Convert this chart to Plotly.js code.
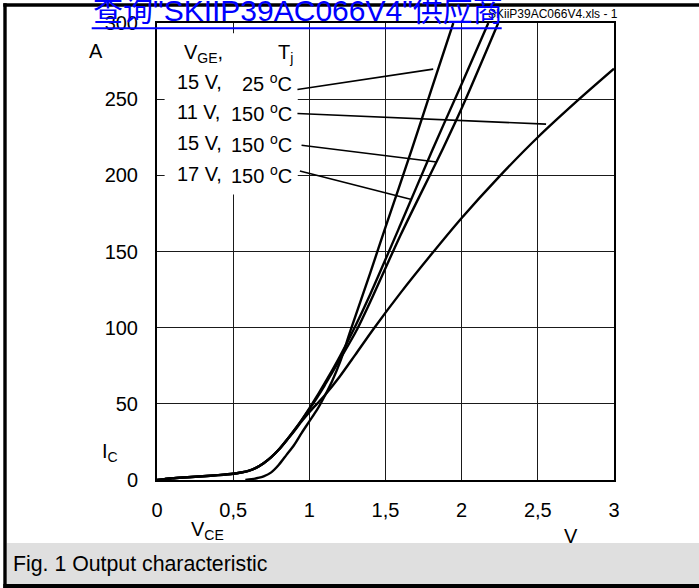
<!DOCTYPE html>
<html>
<head>
<meta charset="utf-8">
<script src="https://cdn.plot.ly/plotly-3.0.1.min.js"></script>
<style>
html,body{margin:0;padding:0;background:#fff;}
#chart{width:699px;height:588px;}
</style>
</head>
<body>
<div id="chart"></div>
<script>
// ---- data (V_CE in V, I_C in A) ----
const xTickVals = [0, 0.5, 1, 1.5, 2, 2.5, 3];
const xTickText = ['0', '0,5', '1', '1,5', '2', '2,5', '3'];
const yTickVals = [0, 50, 100, 150, 200, 250, 300];
const yTickText = ['0', '50', '100', '150', '200', '250', '300'];

// 15 V, 25 °C
const vce_15V_25C = [0.58, 0.62, 0.66, 0.7, 0.75, 0.8, 0.85, 0.9, 0.95, 1.0, 1.05, 1.1, 1.15, 1.2, 1.27, 1.4, 1.5, 1.671, 1.8, 1.945];
const ic_15V_25C  = [0, 0.5, 1.3, 2.4, 5, 10, 16.5, 23, 31, 38.5, 46, 55, 65, 77, 98, 136, 166, 216.5, 256, 300];

// 17 V, 150 °C
const vce_17V_150C = [0, 0.05, 0.1, 0.2, 0.3, 0.4, 0.5, 0.55, 0.6, 0.65, 0.7, 0.75, 0.8, 0.85, 0.9, 0.95, 1.0, 1.05, 1.1, 1.15, 1.2, 1.292, 1.4, 1.6, 1.807, 2.0, 2.175];
const ic_17V_150C  = [0, 0.6, 1.1, 1.8, 2.5, 3.2, 4.1, 4.9, 6, 8, 11, 15, 20, 26, 32.5, 39.5, 47, 55, 63.5, 72, 81, 99, 122, 168, 216.5, 260, 300];

// 15 V, 150 °C
const vce_15V_150C = [0, 0.05, 0.1, 0.2, 0.3, 0.4, 0.5, 0.55, 0.6, 0.65, 0.7, 0.75, 0.8, 0.85, 0.9, 0.95, 1.0, 1.05, 1.1, 1.15, 1.2, 1.314, 1.4, 1.6, 1.879, 2.0, 2.24];
const ic_15V_150C  = [0, 0.6, 1.1, 1.8, 2.5, 3.2, 4.1, 4.9, 6, 8, 11, 15, 20, 26, 32.5, 39.3, 46.5, 54, 62, 70.5, 79, 99, 117, 161, 218, 244, 300];

// 11 V, 150 °C
const vce_11V_150C = [0, 0.05, 0.1, 0.2, 0.3, 0.4, 0.5, 0.55, 0.6, 0.65, 0.7, 0.75, 0.8, 0.85, 0.9, 0.95, 1.0, 1.05, 1.1, 1.2, 1.3, 1.42, 1.6, 1.8, 2.0, 2.245, 2.5, 2.76, 3.0];
const ic_11V_150C  = [0, 0.6, 1.1, 1.8, 2.5, 3.2, 4.1, 4.9, 6, 8, 11, 15, 20, 26, 32, 38.5, 44.5, 50, 55.5, 68, 82, 99, 123, 148, 172, 199, 225, 249, 270];

// legend rows and leader-line targets (label side, curve side) in data units
const legendLeft  = ['15 V,', '11 V,', '15 V,', '17 V,'];
const legendRight = ['25 <sup>o</sup>C', '150 <sup>o</sup>C', '150 <sup>o</sup>C', '150 <sup>o</sup>C'];
const leaderFrom = [[0.922, 256.4], [0.922, 240.6], [0.949, 219.8], [0.938, 202.9]];
const leaderTo   = [[1.813, 269.7], [2.554, 233.6], [1.836, 208.8], [1.671, 184.1]];

// ---- layout helpers (pixel -> paper) ----
const L = 157, T = 23, W = 457, H = 457;
const PX = p => (p - L) / W;
const PY = p => (T + H - p) / H;
const FONT = 'Liberation Sans, Arial, Helvetica, sans-serif';

function curve(x, y) {
  return {x: x, y: y, type: 'scatter', mode: 'lines',
          line: {color: '#000', width: 2.4, shape: 'spline', smoothing: 0.8},
          hoverinfo: 'skip', showlegend: false};
}

const traces = [
  curve(vce_15V_25C, ic_15V_25C),
  curve(vce_17V_150C, ic_17V_150C),
  curve(vce_15V_150C, ic_15V_150C),
  curve(vce_11V_150C, ic_11V_150C)
];

const shapes = [];
// white box behind legend text (hides grid)
shapes.push({type: 'rect', xref: 'x', yref: 'y', x0: 0.05, x1: 0.924, y0: 187.5, y1: 293.2,
             fillcolor: '#fff', line: {width: 0}, layer: 'above'});
// leader lines
for (let i = 0; i < leaderFrom.length; i++) {
  shapes.push({type: 'line', xref: 'x', yref: 'y',
               x0: leaderFrom[i][0], y0: leaderFrom[i][1], x1: leaderTo[i][0], y1: leaderTo[i][1],
               line: {color: '#000', width: 1.6}, layer: 'above'});
}
// frame and caption band
function prect(x0, y0, x1, y1, color) {
  shapes.push({type: 'rect', xref: 'paper', yref: 'paper',
               x0: PX(x0), x1: PX(x1), y0: PY(y1), y1: PY(y0),
               fillcolor: color, line: {width: 0}, layer: 'above'});
}
prect(6.7, 543, 699, 584, '#dfdfdf');
prect(3.3, 3.3, 699, 6.7, '#000');
prect(3.3, 3.3, 6.7, 588, '#000');
prect(3.3, 584, 699, 588, '#000');
// blue underline of the link text
shapes.push({type: 'line', xref: 'paper', yref: 'paper',
             x0: PX(91.7), x1: PX(501.7), y0: PY(28.3), y1: PY(28.3),
             line: {color: '#0000ff', width: 2}, layer: 'above'});

const annotations = [];
function ann(text, px, py, xanchor, size, color, family) {
  annotations.push({text: text, xref: 'paper', yref: 'paper', x: PX(px), y: PY(py),
                    xanchor: xanchor, yanchor: 'middle', showarrow: false,
                    font: {family: family || FONT, size: size, color: color || '#000'},
                    borderpad: 0});
}
ann('A', 96, 51.4, 'center', 20);
ann('I<sub>C</sub>', 110, 452, 'center', 20);
ann('V<sub>CE</sub>', 207, 530, 'center', 20);
ann('V', 571, 535.5, 'center', 20);
ann('Fig. 1 Output characteristic', 11.5, 564, 'left', 21.3);
ann('V<sub>GE</sub>,', 182.7, 53, 'left', 20);
ann('T<sub>j</sub>', 276.7, 53, 'left', 20);
const rowBase = [89.3, 119.3, 150, 181];
for (let i = 0; i < legendLeft.length; i++) {
  ann(legendLeft[i], 175.7, rowBase[i] - 6.9, 'left', 20);
  ann(legendRight[i], 293.3, rowBase[i] - 6.9, 'right', 20);
}
ann('SKiiP39AC066V4.xls - 1', 487, 14.1, 'left', 12);
ann('查询"SKIIP39AC066V4"供应商', 91.7, 10.3, 'left', 30, '#0000ff',
    'Liberation Sans, Arial, Noto Sans CJK SC, sans-serif');

const layout = {
  width: 699, height: 588,
  margin: {l: L, r: 699 - L - W, t: T, b: 588 - T - H, pad: 0},
  paper_bgcolor: '#fff', plot_bgcolor: '#fff',
  showlegend: false, hovermode: false,
  font: {family: FONT, size: 20, color: '#000'},
  xaxis: {range: [0, 3], tickvals: xTickVals, ticktext: xTickText, ticks: '',
          showgrid: true, gridcolor: '#1a1a1a', gridwidth: 1.3, zeroline: false,
          showline: true, linecolor: '#000', linewidth: 2, mirror: true,
          ticklabelstandoff: 11, tickfont: {size: 20, family: FONT}, fixedrange: true},
  yaxis: {range: [0, 300], tickvals: yTickVals, ticktext: yTickText, ticks: '',
          showgrid: true, gridcolor: '#1a1a1a', gridwidth: 1.3, zeroline: false,
          showline: true, linecolor: '#000', linewidth: 2, mirror: true,
          ticklabelstandoff: 13, tickfont: {size: 20, family: FONT}, fixedrange: true},
  shapes: shapes,
  annotations: annotations
};

Plotly.newPlot('chart', traces, layout, {staticPlot: true, displayModeBar: false});
</script>
</body>
</html>
